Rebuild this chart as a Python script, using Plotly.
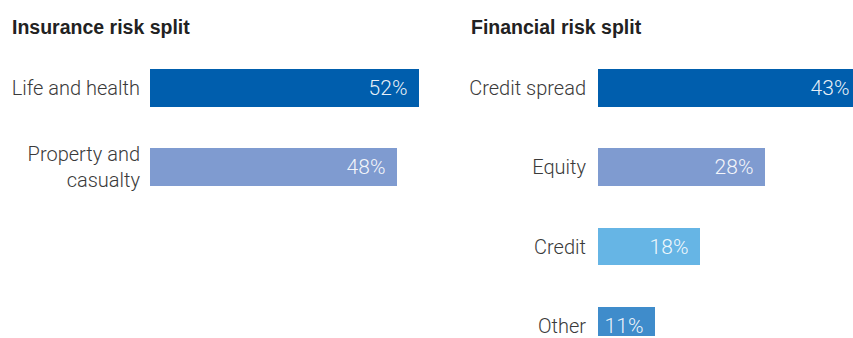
import plotly.graph_objects as go

ins_cats = ["Life and health", "Property and<br>casualty"]
ins_vals = [52, 48]
ins_colors = ["#005EAD", "#7F9BD0"]

fin_cats = ["Credit spread", "Equity", "Credit", "Other"]
fin_vals = [43, 28, 18, 11]
fin_colors = ["#005EAD", "#7F9BD0", "#66B5E5", "#3F8CCB"]

titles = ["Insurance risk split", "Financial risk split"]

W, H = 853, 338
TOP = 48
FONT = "Roboto"
LABEL_COLOR = "#3a3a3a"
TXT = dict(family=FONT, size=21, color="rgba(255,255,255,0.92)", weight=300)

fig = go.Figure()

fig.add_trace(go.Bar(
    x=ins_vals, y=list(range(len(ins_cats))), orientation="h",
    marker=dict(color=ins_colors, line=dict(width=0)), width=0.475,
    text=[f"{v}%\u2009\u2009" for v in ins_vals], textposition="inside",
    insidetextanchor="end", textangle=0, textfont=TXT,
    xaxis="x", yaxis="y", cliponaxis=True, showlegend=False,
))
fig.add_trace(go.Bar(
    x=fin_vals, y=list(range(len(fin_cats))), orientation="h",
    marker=dict(color=fin_colors, line=dict(width=0)), width=0.475,
    text=[f"{v}%\u2009\u2009" for v in fin_vals], textposition="inside",
    insidetextanchor="end", textangle=0, textfont=TXT,
    xaxis="x2", yaxis="y2", cliponaxis=True, showlegend=False,
))

plot_h = H - TOP
yr = [-0.5 + plot_h / 80.0, -0.5]
LBL = dict(family=FONT, size=20, color=LABEL_COLOR, weight=300)

fig.update_layout(
    width=W, height=H,
    margin=dict(l=0, r=0, t=TOP, b=0),
    paper_bgcolor="white", plot_bgcolor="white",
    bargap=0,
    font=dict(family=FONT, color=LABEL_COLOR),
    xaxis=dict(domain=[150 / W, 430 / W], range=[3.1, 3.1 + 280 / 5.5],
               visible=False, fixedrange=True),
    yaxis=dict(domain=[0, 1], range=yr, tickvals=list(range(len(ins_cats))),
               ticktext=ins_cats, showgrid=False, zeroline=False, showline=False,
               ticks="", ticklabelstandoff=9, ticklabeloverflow="allow",
               tickfont=LBL, anchor="x"),
    xaxis2=dict(domain=[598 / W, 1.0], range=[2.1, 2.1 + 258 / 6.51],
                visible=False, fixedrange=True),
    yaxis2=dict(domain=[0, 1], range=yr, tickvals=list(range(len(fin_cats))),
                ticktext=fin_cats, showgrid=False, zeroline=False, showline=False,
                ticks="", ticklabelstandoff=11, ticklabeloverflow="allow",
                tickfont=LBL, anchor="x2"),
)

for tx, xp in zip(titles, [10, 469]):
    fig.add_annotation(
        text=f"<b>{tx}</b>", xref="paper", yref="paper",
        x=xp / W, y=1 + (TOP - 27) / plot_h, xanchor="left", yanchor="middle",
        showarrow=False, font=dict(family="Liberation Sans", size=19.5, color="#222222"),
    )

fig.write_html("out.html")
